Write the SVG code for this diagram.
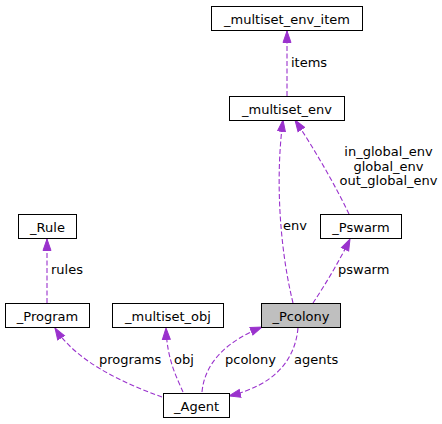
<svg xmlns="http://www.w3.org/2000/svg" width="442" height="424" viewBox="0 0 442 424">
<style>
text{font-family:"DejaVu Sans",sans-serif;font-size:13px;fill:#000}
.n rect{fill:#fff;stroke:#000;stroke-width:1}
.n text{text-anchor:middle}
.e path{fill:none;stroke:#9a32cd;stroke-width:1.1;stroke-dasharray:5,2.5}
</style>
<defs>
<marker id="a" markerUnits="userSpaceOnUse" markerWidth="13" markerHeight="10" refX="12" refY="4.5" orient="auto" viewBox="0 0 13 9">
<polygon points="0.5,0.5 12,4.5 0.5,8.5" fill="#9a32cd" stroke="#9a32cd"/>
</marker>
</defs>
<g id="edges" class="e">
<path d="M287,96 L287,31" marker-end="url(#a)"/>
<path d="M293,303 C280,250 275,180 283,120" marker-end="url(#a)"/>
<path d="M349,214 C335,185 315,150 295,120" marker-end="url(#a)"/>
<path d="M313,303 C325,285 340,260 350,239" marker-end="url(#a)"/>
<path d="M47,303 L47,239" marker-end="url(#a)"/>
<path d="M162,397 C120,382 75,360 55,328" marker-end="url(#a)"/>
<path d="M183,392 C177,378 167,360 166,328" marker-end="url(#a)"/>
<path d="M202,392 C205,360 230,340 262,327" marker-end="url(#a)"/>
<path d="M298,328 C295,360 275,385 229,396" marker-end="url(#a)"/>
<text x="291" y="67">items</text>
<text x="283" y="230">env</text>
<text x="388.5" y="156" text-anchor="middle">in_global_env</text>
<text x="388.5" y="170.5" text-anchor="middle">global_env</text>
<text x="388.5" y="185" text-anchor="middle">out_global_env</text>
<text x="338" y="274">pswarm</text>
<text x="51" y="274">rules</text>
<text x="99" y="364">programs</text>
<text x="174" y="364">obj</text>
<text x="225" y="364">pcolony</text>
<text x="294" y="364">agents</text>
</g>
<g id="n_multiset_env_item" class="n"><rect x="211.5" y="6.5" width="151" height="24"/><text x="287" y="24">_multiset_env_item</text></g>
<g id="n_multiset_env" class="n"><rect x="229.5" y="96.5" width="115" height="24"/><text x="287" y="114">_multiset_env</text></g>
<g id="n_Pswarm" class="n"><rect x="320.5" y="214.5" width="81" height="24"/><text x="361" y="232">_Pswarm</text></g>
<g id="n_Rule" class="n"><rect x="18.5" y="214.5" width="58" height="24"/><text x="47.5" y="232">_Rule</text></g>
<g id="n_Program" class="n"><rect x="5.5" y="303.5" width="84" height="24"/><text x="47.5" y="321">_Program</text></g>
<g id="n_multiset_obj" class="n"><rect x="112.5" y="303.5" width="111" height="24"/><text x="168" y="321">_multiset_obj</text></g>
<g id="n_Pcolony" class="n"><rect x="261.5" y="303.5" width="79" height="24" style="fill:#bfbfbf"/><text x="301" y="321">_Pcolony</text></g>
<g id="n_Agent" class="n"><rect x="163.5" y="393.5" width="66" height="24"/><text x="196.5" y="411">_Agent</text></g>
</svg>
